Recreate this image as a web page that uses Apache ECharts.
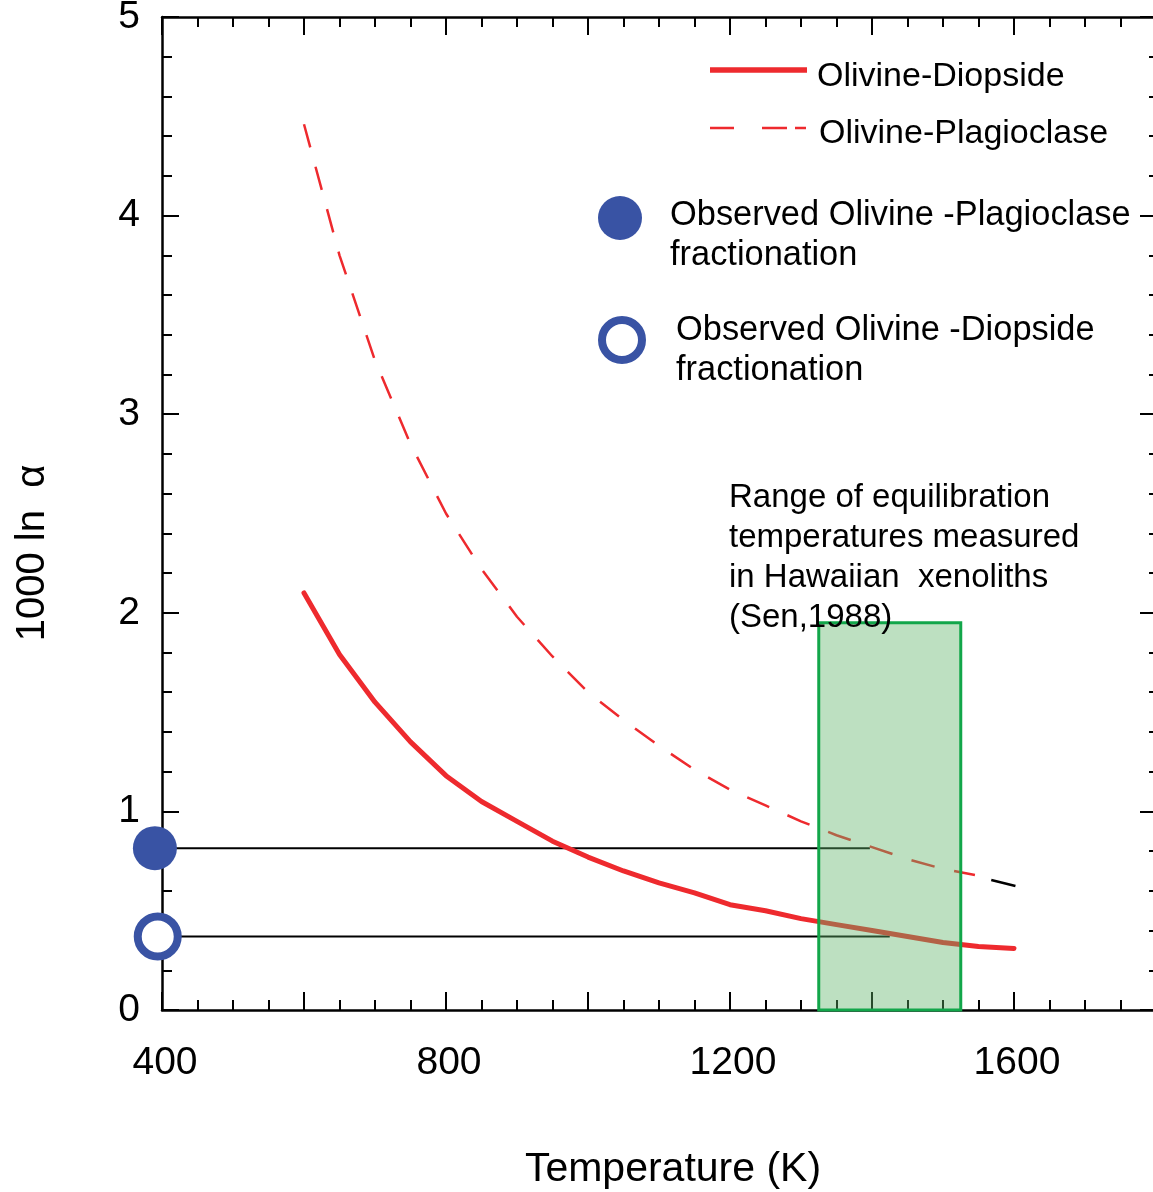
<!DOCTYPE html>
<html>
<head>
<meta charset="utf-8">
<script src="https://cdn.jsdelivr.net/npm/echarts@6/dist/echarts.min.js"></script>
<style>
  html, body { margin: 0; padding: 0; background: #ffffff; }
  #chart { width: 1153px; height: 1192px; }
</style>
</head>
<body>
<div id="chart"></div>
<script>
// ---------- data ----------
const xTickLabels = [400, 800, 1200, 1600];
const yTickLabels = [0, 1, 2, 3, 4, 5];

// Olivine-Diopside (solid red)
const diopT = [600, 650, 700, 750, 800, 850, 900, 950, 1000, 1050, 1100, 1150, 1200, 1250, 1300, 1350, 1400, 1450, 1500, 1550, 1600];
const diopV = [2.10, 1.79, 1.55, 1.35, 1.18, 1.05, 0.95, 0.85, 0.77, 0.70, 0.64, 0.59, 0.53, 0.50, 0.46, 0.43, 0.40, 0.37, 0.34, 0.32, 0.31];

// Olivine-Plagioclase (dashed red)
const plagT = [600, 650, 700, 750, 800, 850, 900, 950, 1000, 1050, 1100, 1150, 1200, 1250, 1300, 1350, 1400, 1450, 1500, 1545];
const plagV = [4.46, 3.80, 3.27, 2.85, 2.50, 2.22, 1.98, 1.78, 1.60, 1.46, 1.33, 1.21, 1.11, 1.03, 0.95, 0.88, 0.82, 0.76, 0.71, 0.68];
// last (black) dash of the plagioclase curve
const plagTailT = [1568, 1602];
const plagTailV = [0.655, 0.624];

// observed fractionations: marker position and horizontal line end
const obsPlagT = [390, 1397];
const obsPlagV = 0.815;
const obsDiopT = [394, 1425];
const obsDiopV = 0.37;

// Hawaiian xenolith equilibration range
const rangeT = [1325, 1525];
const rangeTop = 1.95;

// ---------- styles ----------
const FONT = '"Liberation Sans", Arial, Helvetica, sans-serif';
const RED = '#ee2a2e';
const BLUE = '#3953a4';

const chart = echarts.init(document.getElementById('chart'), null, { renderer: 'canvas' });

function tickStyleX(showLabel) {
  return {
    type: 'value', min: 400, max: 1800, interval: 200,
    axisLine: { show: true, onZero: false, lineStyle: { color: '#000', width: 2.5 } },
    axisTick: { show: true, inside: true, length: 18, lineStyle: { color: '#000', width: 2 } },
    minorTick: { show: true, splitNumber: 4, length: 10, lineStyle: { color: '#000', width: 2 } },
    splitLine: { show: false }, minorSplitLine: { show: false },
    axisLabel: showLabel ? {
      show: true, fontSize: 39, fontFamily: FONT, color: '#000', margin: 34,
      padding: [0, 0, 0, 6],
      showMinLabel: true, showMaxLabel: false, hideOverlap: false,
      formatter: v => (xTickLabels.indexOf(v) >= 0 ? String(v) : '')
    } : { show: false }
  };
}
function tickStyleY(showLabel, major, minor) {
  return {
    type: 'value', min: 0, max: 5, interval: 1,
    axisLine: { show: true, onZero: false, lineStyle: { color: '#000', width: 2.5 } },
    axisTick: { show: true, inside: true, length: major, lineStyle: { color: '#000', width: 2 } },
    minorTick: { show: true, splitNumber: 5, length: minor, lineStyle: { color: '#000', width: 2 } },
    splitLine: { show: false }, minorSplitLine: { show: false },
    axisLabel: showLabel ? {
      show: true, fontSize: 39, fontFamily: FONT, color: '#000', margin: 22,
      padding: [5, 0, 0, 0], hideOverlap: false,
      formatter: v => (yTickLabels.indexOf(v) >= 0 ? String(v) : '')
    } : { show: false }
  };
}

const xBottom = Object.assign(tickStyleX(true), { position: 'bottom' });
const xTop = Object.assign(tickStyleX(false), { position: 'top' });
const yLeft = Object.assign(tickStyleY(true, 17, 10), { position: 'left' });
const yRight = Object.assign(tickStyleY(false, 16, 7), { position: 'right' });

const zip = (a, b) => a.map((t, i) => [t, b[i]]);

const textEl = (txt, x, y, size) => ({
  type: 'text', z: 100, x: x, y: y,
  style: { text: txt, font: size + 'px ' + FONT, fill: '#000', align: 'left', verticalAlign: 'middle' }
});

const option = {
  animation: false,
  backgroundColor: '#ffffff',
  grid: { left: 162, top: 17, width: 994, height: 993, containLabel: false, outerBoundsMode: 'none' },
  xAxis: [xBottom, xTop],
  yAxis: [yLeft, yRight],
  series: [
    {
      name: 'Olivine-Diopside', type: 'line', data: zip(diopT, diopV),
      showSymbol: false, symbol: 'none', z: 3,
      lineStyle: { color: RED, width: 5, cap: 'round', join: 'round' }
    },
    {
      name: 'Olivine-Plagioclase', type: 'line', data: zip(plagT, plagV),
      showSymbol: false, symbol: 'none', z: 3,
      lineStyle: { color: RED, width: 2.5, type: [24, 20] }
    },
    {
      name: 'plagTail', type: 'line', data: zip(plagTailT, plagTailV),
      showSymbol: false, symbol: 'none', z: 3,
      lineStyle: { color: '#000', width: 2.5 }
    },
    {
      name: 'obsPlagLine', type: 'line', clip: false,
      data: [[obsPlagT[0], obsPlagV], [obsPlagT[1], obsPlagV]],
      showSymbol: false, symbol: 'none', z: 2,
      lineStyle: { color: '#000', width: 2 }
    },
    {
      name: 'obsDiopLine', type: 'line', clip: false,
      data: [[obsDiopT[0], obsDiopV], [obsDiopT[1], obsDiopV]],
      showSymbol: false, symbol: 'none', z: 2,
      lineStyle: { color: '#000', width: 2 }
    },
    {
      name: 'rangeBox', type: 'custom', z: 5,
      data: [[rangeT[0], rangeT[1], rangeTop]],
      renderItem: function (params, api) {
        const p0 = api.coord([api.value(0), api.value(2)]);
        const p1 = api.coord([api.value(1), 0]);
        return {
          type: 'rect',
          shape: { x: p0[0], y: p0[1], width: p1[0] - p0[0], height: p1[1] - p0[1] },
          style: { fill: 'rgba(95,180,105,0.41)', stroke: '#12a64a', lineWidth: 3 }
        };
      }
    },
    {
      name: 'Observed Olivine -Plagioclase fractionation', type: 'scatter', clip: false, z: 8,
      data: [[obsPlagT[0], obsPlagV]],
      symbol: 'circle', symbolSize: 44,
      itemStyle: { color: BLUE, opacity: 1 }
    },
    {
      name: 'Observed Olivine -Diopside fractionation', type: 'scatter', clip: false, z: 8,
      data: [[obsDiopT[0], obsDiopV]],
      symbol: 'circle', symbolSize: 40,
      itemStyle: { color: '#ffffff', borderColor: BLUE, borderWidth: 8, opacity: 1 }
    }
  ],
  graphic: [
    // axis titles
    {
      type: 'text', z: 100, x: 33, y: 553, rotation: Math.PI / 2,
      style: { text: '1000 ln  α', font: '40px ' + FONT, fill: '#000', align: 'center', verticalAlign: 'middle' }
    },
    {
      type: 'text', z: 100, x: 673, y: 1170,
      style: { text: 'Temperature (K)', font: '41px ' + FONT, fill: '#000', align: 'center', verticalAlign: 'middle' }
    },
    // legend: solid line
    { type: 'line', z: 100, shape: { x1: 710, y1: 70, x2: 807, y2: 70 }, style: { stroke: RED, lineWidth: 5.5 } },
    textEl('Olivine-Diopside', 817, 77, 34),
    // legend: dashed line
    { type: 'line', z: 100, shape: { x1: 710, y1: 128, x2: 806, y2: 128 }, style: { stroke: RED, lineWidth: 2.5, lineDash: [24, 28, 25, 8] } },
    textEl('Olivine-Plagioclase', 819, 134, 34),
    // legend: filled circle
    { type: 'circle', z: 100, shape: { cx: 620, cy: 218, r: 22 }, style: { fill: BLUE } },
    textEl('Observed Olivine -Plagioclase', 670, 216, 34.4),
    textEl('fractionation', 670, 256, 34.4),
    // legend: open circle
    { type: 'circle', z: 100, shape: { cx: 622, cy: 340, r: 20 }, style: { fill: '#fff', stroke: BLUE, lineWidth: 8 } },
    textEl('Observed Olivine -Diopside', 676, 331, 34.4),
    textEl('fractionation', 676, 371, 34.4),
    // range annotation
    textEl('Range of equilibration', 729, 498, 33),
    textEl('temperatures measured', 729, 538, 33),
    textEl('in Hawaiian  xenoliths', 729, 578, 33),
    textEl('(Sen,1988)', 729, 618, 33)
  ]
};

chart.setOption(option);
</script>
</body>
</html>
